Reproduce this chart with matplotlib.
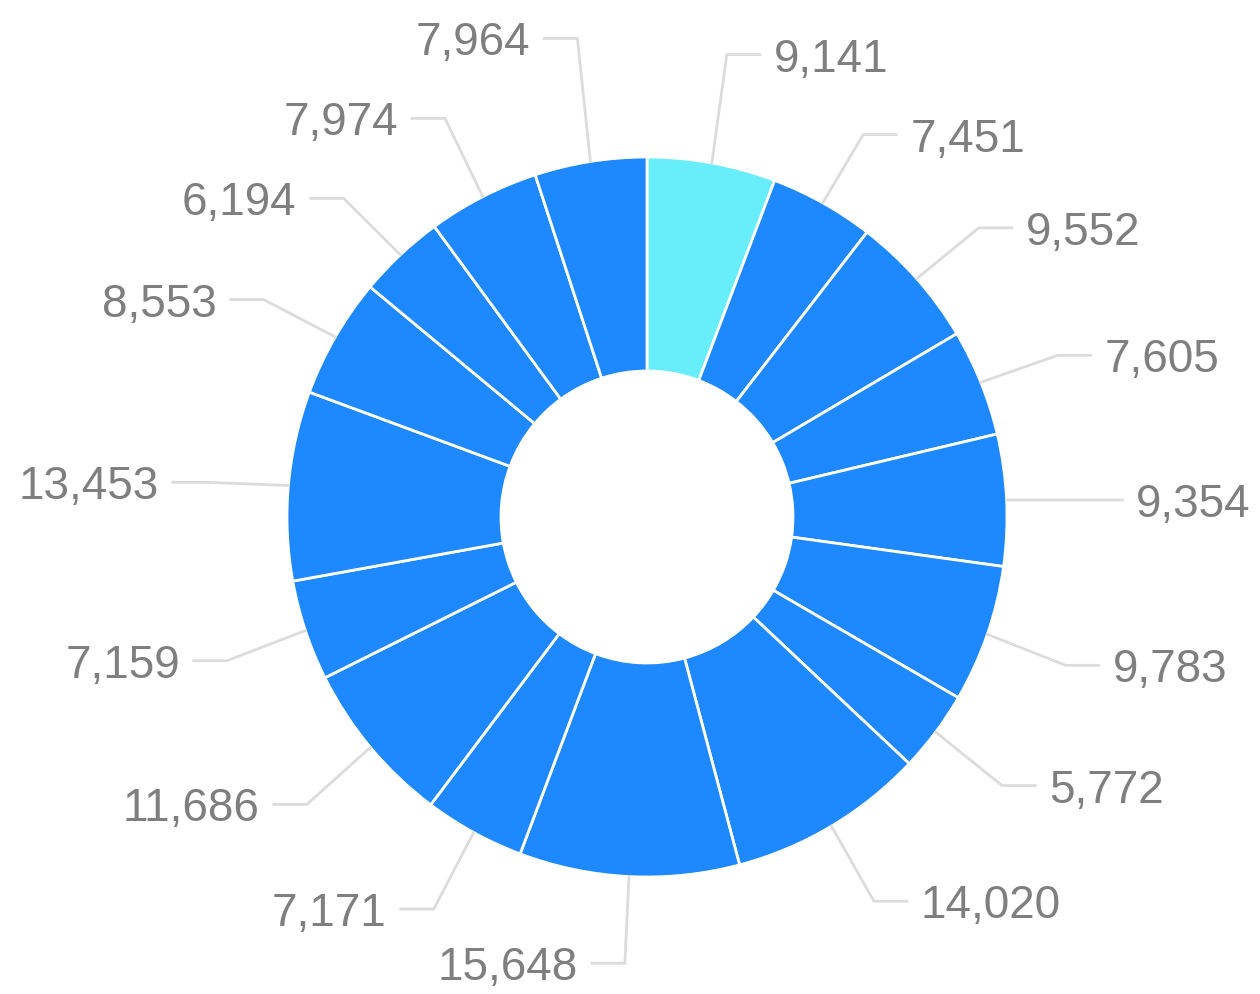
import matplotlib.pyplot as plt
import numpy as np

plt.rcParams["font.family"] = ["Liberation Sans", "DejaVu Sans"]

# Slices, clockwise from 12 o'clock
values = [9141, 7451, 9552, 7605, 9354, 9783, 5772, 14020, 15648,
          7171, 11686, 7159, 13453, 8553, 6194, 7974, 7964]
labels = [f"{v:,}" for v in values]
highlight = 0

blue = "#1e88ff"
cyan = "#68edfb"
text_gray = "#7f7f7f"
line_gray = "#dcdcdc"

# Layout in pixel units
W, H = 1260, 994
cx, cy = 647, H - 517
R = 360
hole = 146
elbow_r = 1.23 * R
seg = 33
gap = 14
min_space = 80

fig = plt.figure(figsize=(W / 100, H / 100), dpi=100)
ax = fig.add_axes([0, 0, 1, 1])

colors = [cyan if i == highlight else blue for i in range(len(values))]
wedges, _ = ax.pie(
    values,
    colors=colors,
    startangle=90,
    counterclock=False,
    center=(cx, cy),
    radius=R,
    wedgeprops=dict(width=R - hole, edgecolor="white", linewidth=2),
    frame=True,
)
ax.set_xlim(0, W)
ax.set_ylim(0, H)
ax.set_aspect("equal")
ax.axis("off")

# label anchor points
items = []
for w, lab in zip(wedges, labels):
    mid = np.deg2rad((w.theta1 + w.theta2) / 2)
    dx, dy = np.cos(mid), np.sin(mid)
    items.append(dict(
        lab=lab,
        x0=cx + R * dx, y0=cy + R * dy,
        x1=cx + elbow_r * dx, y1=cy + elbow_r * dy - 4,
        side=1 if dx >= 0 else -1,
    ))

# push crowded labels in the upper half upwards
for side in (1, -1):
    upper = sorted([it for it in items if it["side"] == side and it["y1"] > cy],
                   key=lambda it: it["y1"])
    for lower, higher in zip(upper, upper[1:]):
        if higher["y1"] - lower["y1"] < min_space:
            higher["y1"] = lower["y1"] + min_space

for it in items:
    side = it["side"]
    x2 = it["x1"] + side * seg
    ax.plot([it["x0"], it["x1"], x2], [it["y0"], it["y1"], it["y1"]],
            color=line_gray, lw=2, solid_joinstyle="miter")
    ax.text(x2 + side * gap, it["y1"], it["lab"], fontsize=33, color=text_gray,
            ha="left" if side > 0 else "right", va="center_baseline")

fig.savefig("out.png", dpi=100)
